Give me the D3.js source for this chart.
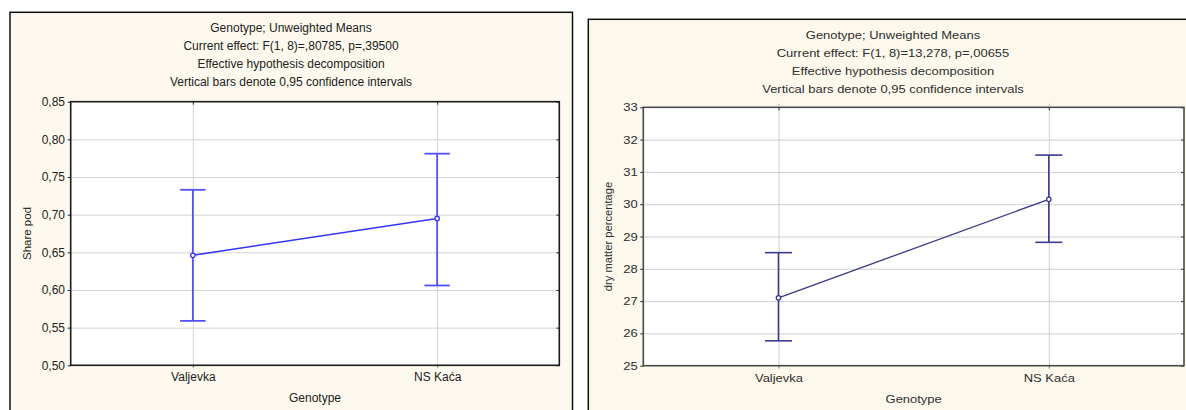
<!DOCTYPE html>
<html><head><meta charset="utf-8">
<script src="https://cdn.jsdelivr.net/npm/d3@7"></script>
<style>
html,body{margin:0;padding:0;background:#fff;}
svg{display:block;font-family:"Liberation Sans",Arial,sans-serif;}
</style>
</head><body>
<svg id="c" width="1186" height="410"></svg>
<script>
// ---- data ----
const categories = ["Valjevka", "NS Kaća"];

const shareMean  = [0.646, 0.695];
const shareLower = [0.559, 0.606];
const shareUpper = [0.733, 0.781];
const shareTicks = [0.50, 0.55, 0.60, 0.65, 0.70, 0.75, 0.80, 0.85];
const shareTitle = [
  "Genotype; Unweighted Means",
  "Current effect: F(1, 8)=,80785, p=,39500",
  "Effective hypothesis decomposition",
  "Vertical bars denote 0,95 confidence intervals"
];
const shareYLabel = "Share pod";

const dryMean  = [27.1, 30.15];
const dryLower = [25.77, 28.82];
const dryUpper = [28.5, 31.52];
const dryTicks = [25, 26, 27, 28, 29, 30, 31, 32, 33];
const dryTitle = [
  "Genotype; Unweighted Means",
  "Current effect: F(1, 8)=13,278, p=,00655",
  "Effective hypothesis decomposition",
  "Vertical bars denote 0,95 confidence intervals"
];
const dryYLabel = "dry matter percentage";

const xLabel = "Genotype";

// ---- drawing ----
const svg = d3.select("#c");

function drawPanel(o) {
  const g = svg.append("g");
  const [px0, py0, px1, py1] = o.plot;
  const pw = px1 - px0, ph = py1 - py0;
  const s = o.sx;

  g.append("rect").attr("x", o.box[0]).attr("y", o.box[1])
    .attr("width", o.box[2]).attr("height", o.box[3])
    .attr("fill", o.bg).attr("stroke", "#111").attr("stroke-width", 1.5);

  const x = d3.scalePoint().domain(categories).range([px0, px1]).padding(0.5);
  const y = d3.scaleLinear().domain([o.ticks[0], o.ticks[o.ticks.length - 1]]).range([py1, py0]);

  g.append("rect").attr("x", px0).attr("y", py0).attr("width", pw).attr("height", ph).attr("fill", "#fff");

  // horizontal gridlines
  g.append("g").attr("transform", `translate(${px0},0)`)
    .call(d3.axisLeft(y).tickValues(o.ticks.slice(1, -1)).tickSize(-pw).tickFormat(""))
    .call(a => a.select(".domain").remove())
    .selectAll("line").attr("stroke", o.grid).attr("stroke-dasharray", "1,1");

  // vertical gridlines
  g.append("g").attr("transform", `translate(0,${py1 + 3})`)
    .call(d3.axisBottom(x).tickSize(-(ph + 3 + o.vExtraTop)).tickFormat(""))
    .call(a => a.select(".domain").remove())
    .selectAll("line").attr("stroke", o.grid).attr("stroke-dasharray", "1,1");

  // left axis ticks + labels
  const fmt = v => d3.format(o.fmt)(v).replace(".", ",");
  const ya = g.append("g").attr("transform", `translate(${px0},0)`)
    .call(d3.axisLeft(y).tickValues(o.ticks).tickSize(3).tickPadding(3).tickFormat(fmt));
  ya.select(".domain").remove();
  ya.selectAll("line").attr("stroke", "#222");
  ya.selectAll("text").attr("x", -o.labelGap / s).attr("transform", `scale(${s},1)`)
    .attr("fill", o.text).style("font-size", o.fs + "px").style("font-family", null);

  // right axis inward ticks
  const ra = g.append("g").attr("transform", `translate(${px1},0)`)
    .call(d3.axisLeft(y).tickValues(o.ticks).tickSize(3).tickFormat(""));
  ra.select(".domain").remove();
  ra.selectAll("line").attr("stroke", "#333");

  // top axis inward ticks
  const ta = g.append("g").attr("transform", `translate(0,${py0})`)
    .call(d3.axisTop(x).tickSize(-3).tickFormat(""));
  ta.select(".domain").remove();
  ta.selectAll("line").attr("stroke", "#333");

  // bottom axis labels
  const xa = g.append("g").attr("transform", `translate(0,${py1})`)
    .call(d3.axisBottom(x).tickSize(2));
  xa.select(".domain").remove();
  xa.selectAll("line").attr("stroke", "#666");
  xa.selectAll("text").attr("y", o.xTickY - py1).attr("dy", 0)
    .attr("transform", `scale(${s},1)`).attr("fill", o.text)
    .style("font-size", o.fs + "px").style("font-family", null);

  // plot frame
  g.append("rect").attr("x", px0).attr("y", py0).attr("width", pw).attr("height", ph)
    .attr("fill", "none").attr("stroke", o.frame).attr("stroke-width", 1.6);

  // titles
  o.title.forEach((t, i) => {
    g.append("text").attr("transform", `translate(${o.titleX},${o.titleY + i * 18}) scale(${s},1)`)
      .attr("text-anchor", "middle").attr("fill", o.text).style("font-size", o.fs + "px").text(t);
  });

  // x axis title
  g.append("text").attr("transform", `translate(${(px0 + px1) / 2},${o.xTitleY}) scale(${s},1)`)
    .attr("text-anchor", "middle").attr("fill", o.text).style("font-size", o.fs + "px").text(xLabel);

  // y axis title
  g.append("text").attr("transform", `translate(${o.yTitleX},${(py0 + py1) / 2}) rotate(-90)`)
    .attr("text-anchor", "middle").attr("fill", o.text).style("font-size", o.yfs + "px").text(o.yLabel);

  // error bars
  categories.forEach((c, i) => {
    const cx = x(c);
    g.append("line").attr("x1", cx).attr("x2", cx).attr("y1", y(o.lower[i])).attr("y2", y(o.upper[i]))
      .attr("stroke", o.barColor).attr("stroke-width", o.barW);
    [o.lower[i], o.upper[i]].forEach(v => {
      g.append("line").attr("x1", cx - o.cap).attr("x2", cx + o.cap).attr("y1", y(v)).attr("y2", y(v))
        .attr("stroke", o.barColor).attr("stroke-width", o.barW);
    });
  });

  // mean line
  const line = d3.line().x((d, i) => x(categories[i])).y(d => y(d));
  g.append("path").datum(o.mean).attr("d", line).attr("fill", "none")
    .attr("stroke", o.lineColor).attr("stroke-width", o.lineW);

  g.selectAll(null).data(o.mean).enter().append("circle")
    .attr("cx", (d, i) => x(categories[i])).attr("cy", d => y(d)).attr("r", 2.2)
    .attr("fill", "#fff").attr("stroke", o.lineColor).attr("stroke-width", 1.3);
}

drawPanel({
  box: [10, 12.3, 562.5, 430], bg: "#fdf9ee",
  plot: [70.7, 101.7, 559.3, 365.3],
  ticks: shareTicks, fmt: ".2f",
  mean: shareMean, lower: shareLower, upper: shareUpper,
  title: shareTitle, titleX: 291, titleY: 31.5,
  yLabel: shareYLabel, yTitleX: 31, xTickY: 381.5, xTitleY: 402,
  fs: 12, yfs: 11.5, sx: 1, labelGap: 5.7,
  text: "#222", grid: "#a8a8a8", frame: "#1a1a1a", vExtraTop: 0,
  barColor: "#5050ff", barW: 1.8, lineColor: "#3535f5", lineW: 1.5, cap: 12.7
});

drawPanel({
  box: [588.3, 19.3, 640, 430], bg: "#fcf8ec",
  plot: [643.3, 107.3, 1184, 365.7],
  ticks: dryTicks, fmt: "d",
  mean: dryMean, lower: dryLower, upper: dryUpper,
  title: dryTitle, titleX: 893, titleY: 38.5,
  yLabel: dryYLabel, yTitleX: 611.5, xTickY: 382.5, xTitleY: 402.5,
  fs: 11, yfs: 11.2, sx: 1.18, labelGap: 5.6,
  text: "#2e2e2e", grid: "#a0a0a0", frame: "#4a4a4a", vExtraTop: 4,
  barColor: "#3b3b8e", barW: 1.6, lineColor: "#38388a", lineW: 1.3, cap: 13.5
});
</script>
</body></html>
